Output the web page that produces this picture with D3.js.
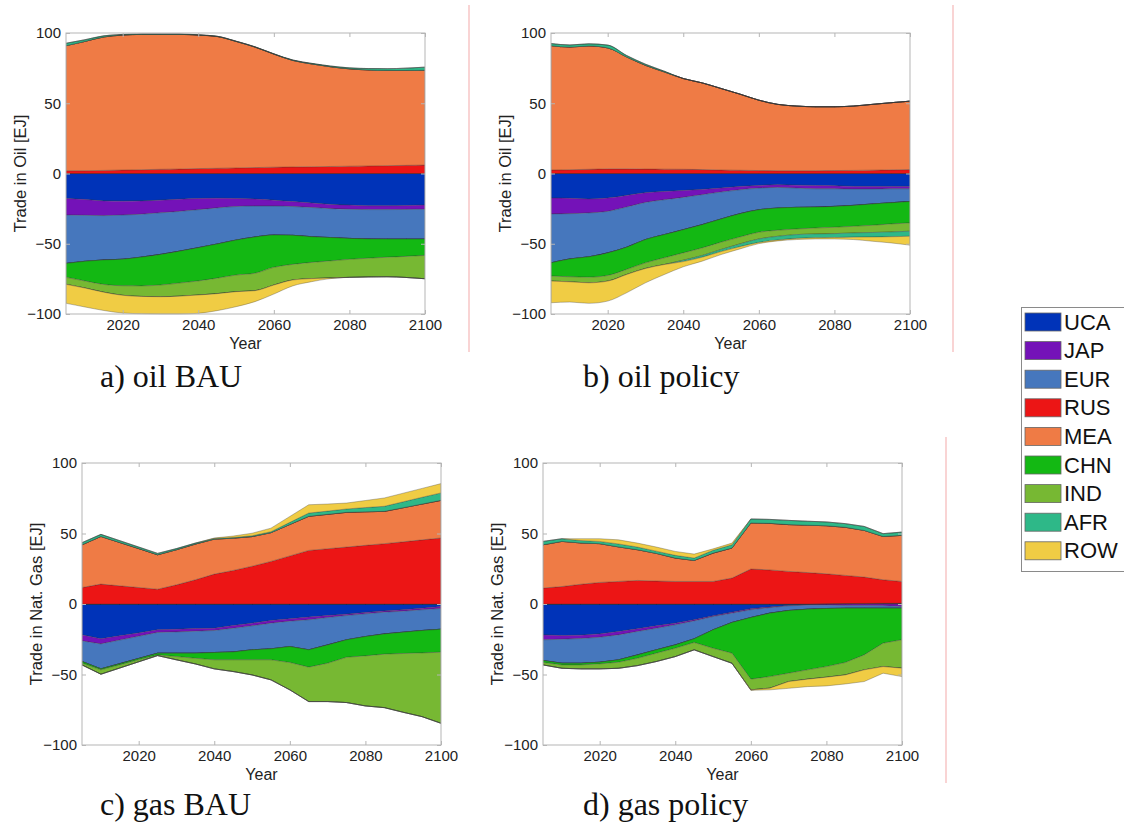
<!DOCTYPE html>
<head>
  <title>trade in oil and gas</title>
  <meta charset="utf-8" />
  <script src="https://d3js.org/d3.v7.min.js"></script>
  <style>
    body { margin: 0; background: #fff; }
    svg { display: block; }
  </style>
</head>
<body>
<script>
  // years on the x axis, 5 year steps
  const years = [2005, 2010, 2015, 2020, 2025, 2030, 2035, 2040, 2045, 2050,
                 2055, 2060, 2065, 2070, 2075, 2080, 2085, 2090, 2095, 2100];
  const regions = ["UCA", "JAP", "EUR", "RUS", "MEA", "CHN", "IND", "AFR", "ROW"];
  const colors = ["#0033b8", "#7412b8", "#4677bd", "#ec1515", "#ef7b45",
                  "#13b813", "#77b833", "#2eb888", "#f0cc44"];
  const yTicks = [-100, -50, 0, 50, 100];
  const xTicks = [2020, 2040, 2060, 2080, 2100];

  // a) oil BAU  [EJ]
  const oilBauUCA = [-17.8, -18.5, -19.5, -19.7, -19.5, -19, -18.3, -17.8, -17.6, -17.8, -18.2, -19, -20, -21, -22, -22.5, -23, -23, -22.8, -22.5];
  const oilBauJAP = [-11.8, -11.3, -10.5, -9.9, -9.5, -9, -8.7, -8, -6.9, -5.7, -5, -4.2, -3.5, -3.2, -3, -3, -2.7, -2.7, -2.8, -3];
  const oilBauEUR = [-34.4, -32.7, -31.5, -31.4, -30.5, -29.6, -28.3, -27, -25.7, -23.9, -22, -20.6, -20.5, -20.8, -20.6, -20.7, -20.9, -21, -21.1, -21.2];
  const oilBauRUS = [2, 2, 2.2, 2.5, 2.7, 3, 3.2, 3.5, 3.7, 4, 4.2, 4.5, 4.7, 4.8, 5, 5.2, 5.4, 5.6, 5.8, 6];
  const oilBauMEA = [89, 92, 95, 96, 96.3, 96, 95.8, 95, 93.8, 90, 85.8, 80.5, 75.8, 73.2, 71, 69.3, 68.3, 67.7, 67.5, 67.5];
  const oilBauCHN = [-9.9, -14, -17.5, -18.9, -20.5, -21.8, -22.7, -23.7, -24.3, -24.9, -25.8, -23, -20.7, -18.3, -16.6, -14.9, -13.7, -12.9, -12.3, -11.6];
  const oilBauIND = [-5, -5, -5.5, -6.8, -7.5, -8.3, -9.3, -10, -11, -11.8, -12.4, -12.6, -11.1, -11.5, -12.1, -12.8, -13.3, -13.9, -15, -16.6];
  const oilBauAFR = [1.7, 1.2, 0.8, 0.5, 0.3, 0.3, 0.3, 0.2, 0.2, 0.2, 0.2, 0.2, 0.3, 0.4, 0.5, 0.7, 1, 1.3, 1.7, 2.2];
  const oilBauROW = [-13.5, -13.5, -13, -12.6, -12.3, -12.3, -12.7, -13, -12.1, -10.7, -7.8, -6.4, -4.2, -2.2, -0.5, 0, 0, 0, 0, 0];

  // b) oil policy
  const oilPolUCA = [-17.5, -17.7, -18.2, -17.5, -15.6, -13.7, -12.8, -12.1, -11.3, -10.4, -9.2, -8.5, -8, -8.3, -8.5, -8.7, -9.2, -9.2, -9.2, -9.2];
  const oilPolJAP = [-11.3, -10.9, -9.9, -9.5, -8.3, -6.9, -5.9, -4.9, -3.8, -2.8, -2.4, -1.9, -1.9, -2.1, -2.4, -2.2, -1.9, -1.9, -1.7, -1.7];
  const oilPolEUR = [-34.8, -32.2, -31.2, -29.5, -28.6, -26.4, -24.8, -23, -21.3, -19.2, -17, -15.4, -14.7, -13.7, -13, -12.5, -11.6, -10.6, -9.9, -9];
  const oilPolRUS = [2.5, 2.7, 3, 3.3, 3.3, 3.2, 3.1, 3, 2.8, 2.5, 2.3, 2.1, 2, 2, 2, 2.1, 2.2, 2.4, 2.6, 2.8];
  const oilPolMEA = [88.5, 87.3, 87.8, 86.1, 79.7, 73.8, 69.2, 64.6, 61.7, 58, 54.2, 50.1, 47.2, 46, 45.5, 45.4, 45.8, 46.8, 47.8, 48.7];
  const oilPolCHN = [-9.4, -12.7, -14.5, -16.1, -15.8, -16.6, -16.5, -16.5, -16.6, -16.5, -16.6, -16, -15.8, -15.4, -14.9, -14.9, -14.9, -15.2, -15.1, -15.3];
  const oilPolIND = [-3.6, -3.6, -4, -4, -3.6, -4, -4.8, -5.2, -5.4, -5.2, -4.9, -4.8, -4.3, -4, -4.2, -4.5, -4.7, -5.1, -5.7, -5.9];
  const oilPolAFR = [1.5, 1.5, 1.5, 2, 1, 0.8, 0.5, -1, -1.2, -1.5, -2, -2.5, -2.7, -2.7, -2.8, -2.8, -3, -3.2, -3.4, -3.6];
  const oilPolROW = [-15.4, -14.4, -14.6, -14.2, -13, -10.2, -7.1, -3.7, -2.8, -2.1, -1.6, -0.8, -0.6, -0.8, -0.8, -1, -1.7, -3, -4.4, -6.3];

  // c) gas BAU
  const gasBauUCA = [-21.9, -24.7, -22.6, -20.5, -18.3, -17.9, -17.4, -17.2, -15.3, -13.6, -11.7, -10.5, -9.3, -8.2, -7.2, -6, -4.9, -4.1, -3, -1.8];
  const gasBauJAP = [-4.3, -3.6, -3, -2.4, -1.9, -1.9, -1.9, -1.6, -1.9, -1.9, -1.9, -1.7, -1.9, -1.4, -1, -1, -0.9, -1, -1.1, -1.4];
  const gasBauEUR = [-14.6, -17.7, -16.7, -15.7, -14.7, -15.1, -15.6, -15.6, -16.8, -17, -18.2, -18, -21.3, -19.4, -17.2, -16.1, -15.4, -14.9, -14.7, -14.7];
  const gasBauRUS = [11.7, 14.1, 12.9, 11.7, 10.5, 13.6, 17.2, 21.2, 23.8, 26.8, 30.2, 34.1, 38, 39.2, 40.4, 41.6, 42.8, 44.1, 45.5, 46.8];
  const gasBauMEA = [30.3, 33.8, 30.7, 27.6, 24.4, 24.9, 25.3, 24.8, 22.9, 21, 20.4, 22.3, 24.2, 24.4, 24.6, 23.8, 22.9, 24.2, 25.4, 26.7];
  const gasBauCHN = [-1.2, -0.7, -0.9, -1, -1.2, -2.4, -3.6, -5.2, -5.6, -7.1, -7.8, -11.3, -12.3, -13, -12.4, -13.7, -14.4, -15.1, -15.9, -16.3];
  const gasBauIND = [-1.2, -3.1, -2.2, -1.4, -0.5, -2.3, -4, -6.4, -8.3, -10.7, -14.2, -19.4, -24.4, -27.2, -32.1, -35.5, -37.9, -41.7, -45.2, -50.4];
  const gasBauAFR = [1.5, 1.5, 1.3, 1.1, 1, 0.8, 0.7, 0.5, 0.5, 0.6, 0.7, 1.5, 2.3, 2.3, 2.4, 3, 3.6, 4.2, 4.8, 5.3];
  const gasBauROW = [0, 0, 0, 0, 0, 0, 0, 0.3, 1, 1.8, 2.5, 4.2, 5.9, 5, 4.2, 5, 5.9, 6.1, 6.3, 6.6];

  // d) gas policy
  const gasPolUCA = [-21.9, -22.4, -22.1, -21.2, -19.5, -17.6, -15.5, -13.6, -11.2, -8.4, -5.8, -3.4, -2.2, -1.1, -0.4, 0.2, 0.3, 0.4, 0.5, 0.5];
  const gasPolJAP = [-3.5, -2.6, -2.4, -2.4, -2.4, -1.9, -1.7, -1.2, -0.8, -0.5, -0.7, -0.7, -0.4, -0.2, -0.4, -0.8, -1.1, -1.1, -1.3, -1.8];
  const gasPolEUR = [-14.7, -17, -17.5, -17.7, -17.7, -16.6, -15.3, -14.2, -12.7, -9.4, -6.6, -5.5, -3.9, -3.3, -2.9, -2.4, -1.9, -1.9, -1.7, -1.2];
  const gasPolRUS = [11.3, 12.4, 14, 15.3, 16, 16.7, 16.3, 16, 16, 16, 18.4, 24.8, 24.2, 23.1, 22.3, 21.2, 20, 18.7, 16.7, 15.5];
  const gasPolMEA = [30.7, 32, 29.3, 27.5, 24.5, 21.8, 19.6, 16.6, 14.9, 20.1, 21.3, 32.7, 33, 33.2, 33.6, 34.1, 34.1, 33.1, 30.7, 32.7];
  const gasPolCHN = [-1.4, -1.2, -1.2, -1.2, -1.7, -2.4, -2.4, -2.4, -2.6, -13.1, -21.8, -43.7, -45, -44.5, -43, -41.2, -38.5, -33.1, -24.8, -22.4];
  const gasPolIND = [-1.7, -2.4, -2.8, -3.5, -4.3, -5.2, -5.9, -5.9, -5.2, -5.9, -7.1, -7.6, -8.2, -5.9, -6.6, -7.5, -8.8, -10.6, -16.6, -20.1];
  const gasPolAFR = [2.4, 1.9, 1.7, 1.6, 2.1, 1.9, 1.6, 1.9, 1.7, 2, 2.3, 2.8, 2.8, 3, 2.8, 2.7, 2.6, 2.8, 2, 2.3];
  const gasPolROW = [0, 0, 1.3, 1.9, 2.9, 2.8, 2.9, 2.8, 2.8, 1, 1.2, -0.3, -1.2, -4.8, -5.3, -6.2, -6.4, -8.3, -4.7, -6];

  const panels = [
    { series: [oilBauUCA, oilBauJAP, oilBauEUR, oilBauRUS, oilBauMEA, oilBauCHN, oilBauIND, oilBauAFR, oilBauROW],
      ylabel: "Trade in Oil [EJ]", caption: "a) oil BAU", smooth: true,
      left: 66, right: 425, top: 33, bottom: 314, capX: 100, capY: 387 },
    { series: [oilPolUCA, oilPolJAP, oilPolEUR, oilPolRUS, oilPolMEA, oilPolCHN, oilPolIND, oilPolAFR, oilPolROW],
      ylabel: "Trade in Oil [EJ]", caption: "b) oil policy", smooth: true,
      left: 551, right: 910, top: 33, bottom: 314, capX: 583, capY: 387 },
    { series: [gasBauUCA, gasBauJAP, gasBauEUR, gasBauRUS, gasBauMEA, gasBauCHN, gasBauIND, gasBauAFR, gasBauROW],
      ylabel: "Trade in Nat. Gas [EJ]", caption: "c) gas BAU", smooth: false,
      left: 82, right: 441, top: 463, bottom: 745, capX: 100, capY: 815 },
    { series: [gasPolUCA, gasPolJAP, gasPolEUR, gasPolRUS, gasPolMEA, gasPolCHN, gasPolIND, gasPolAFR, gasPolROW],
      ylabel: "Trade in Nat. Gas [EJ]", caption: "d) gas policy", smooth: false,
      left: 543, right: 902, top: 463, bottom: 745, capX: 583, capY: 815 },
  ];

  const svg = d3.select("body").append("svg")
    .attr("width", 1124).attr("height", 824)
    .style("font-family", "'Liberation Sans', Arial, sans-serif");

  // thin pink separators
  const seps = [[469, 5, 352], [953, 5, 352], [946, 437, 783]];
  svg.selectAll("line.sep").data(seps).join("line")
    .attr("class", "sep")
    .attr("x1", (d) => d[0]).attr("x2", (d) => d[0])
    .attr("y1", (d) => d[1]).attr("y2", (d) => d[2])
    .attr("stroke", "#f3a9a9").attr("stroke-width", 1);

  panels.forEach((p, pi) => {
    const table = years.map((yr, i) => {
      const row = { year: yr };
      regions.forEach((r, k) => (row[r] = p.series[k][i]));
      return row;
    });

    const x = d3.scaleLinear().domain([2005, 2100]).range([p.left, p.right]);
    const y = d3.scaleLinear().domain([-100, 100]).range([p.bottom, p.top]);

    // positive and negative parts stacked separately
    const pos = d3.stack().keys(regions).value((d, k) => Math.max(0, d[k]))(table);
    const neg = d3.stack().keys(regions).value((d, k) => Math.min(0, d[k]))(table);

    const area = d3.area()
      .x((d) => x(d.data.year))
      .y0((d) => y(d[0]))
      .y1((d) => y(d[1]))
      .curve(p.smooth ? d3.curveMonotoneX : d3.curveLinear);

    const g = svg.append("g");
    g.append("clipPath").attr("id", "clip" + pi)
      .append("rect")
      .attr("x", p.left).attr("y", p.top - 1)
      .attr("width", p.right - p.left).attr("height", p.bottom - p.top + 2);

    const plot = g.append("g").attr("clip-path", `url(#clip${pi})`);
    [neg, pos].forEach((stack) => {
      plot.append("g").selectAll("path").data(stack).join("path")
        .attr("d", area)
        .attr("fill", (d) => colors[d.index])
        .attr("stroke", "#333")
        .attr("stroke-opacity", 0.45)
        .attr("stroke-width", 0.7);
    });

    // box
    g.append("rect")
      .attr("x", p.left).attr("y", p.top)
      .attr("width", p.right - p.left).attr("height", p.bottom - p.top)
      .attr("fill", "none").attr("stroke", "#b5b5b5").attr("stroke-width", 1);

    const styleAxis = (sel, fs) => {
      sel.select(".domain").remove();
      sel.selectAll(".tick line").attr("stroke", "#b5b5b5");
      sel.selectAll("text").attr("font-size", fs).attr("fill", "#222")
        .attr("font-family", "'Liberation Sans', Arial, sans-serif");
    };

    g.append("g").attr("transform", `translate(${p.left},0)`)
      .call(d3.axisLeft(y).tickValues(yTicks).tickSize(-4).tickPadding(5).tickFormat(d3.format("d")))
      .call(styleAxis, 15);
    g.append("g").attr("transform", `translate(${p.right},0)`)
      .call(d3.axisRight(y).tickValues(yTicks).tickSize(-4).tickFormat(""))
      .call(styleAxis, 15);
    g.append("g").attr("transform", `translate(0,${p.bottom})`)
      .call(d3.axisBottom(x).tickValues(xTicks).tickSize(-4).tickPadding(5).tickFormat(d3.format("d")))
      .call(styleAxis, 15);
    g.append("g").attr("transform", `translate(0,${p.top})`)
      .call(d3.axisTop(x).tickValues(xTicks).tickSize(-4).tickFormat(""))
      .call(styleAxis, 15);

    g.append("text")
      .attr("x", (p.left + p.right) / 2).attr("y", p.bottom + 35)
      .attr("text-anchor", "middle").attr("font-size", 16).attr("fill", "#222")
      .text("Year");

    g.append("text")
      .attr("transform", `translate(${p.left - 46},${(p.top + p.bottom) / 2}) rotate(-90)`)
      .attr("text-anchor", "middle").attr("dominant-baseline", "central")
      .attr("font-size", 16.5).attr("fill", "#222")
      .text(p.ylabel);

    g.append("text")
      .attr("x", p.capX).attr("y", p.capY)
      .attr("font-family", "'Liberation Serif', 'Times New Roman', serif")
      .attr("font-size", 32).attr("fill", "#111")
      .text(p.caption);
  });

  // legend
  const leg = svg.append("g");
  leg.append("rect")
    .attr("x", 1021.5).attr("y", 307.5).attr("width", 110).attr("height", 264)
    .attr("fill", "#fff").attr("stroke", "#8a8a8a");
  const item = leg.selectAll("g.item").data(regions).join("g")
    .attr("class", "item")
    .attr("transform", (d, i) => `translate(1025,${313 + i * 28.6})`);
  item.append("rect")
    .attr("width", 36).attr("height", 18)
    .attr("fill", (d, i) => colors[i])
    .attr("stroke", "#666").attr("stroke-width", 0.8);
  item.append("text")
    .attr("x", 39).attr("y", 16.5)
    .attr("font-size", 22).attr("fill", "#111")
    .text((d) => d);
</script>
</body>
